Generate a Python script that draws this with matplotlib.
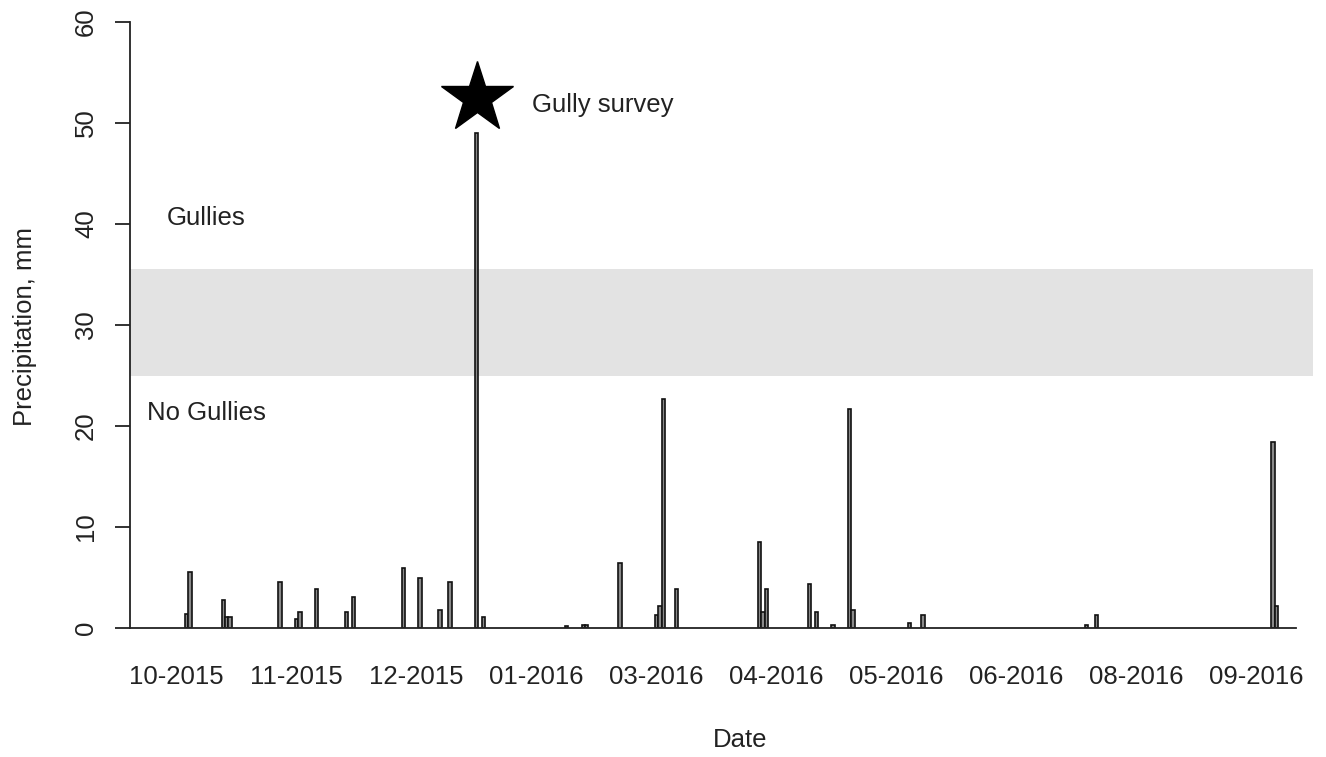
import matplotlib
matplotlib.use("Agg")
import matplotlib.pyplot as plt

plt.rcParams['font.family'] = ['Liberation Sans', 'DejaVu Sans']

# daily rainfall, x = day index of the record
days = [17, 18, 28, 29, 30, 45, 50, 51, 56, 65, 67, 82, 87, 93, 96, 104, 106,
        131, 136, 137, 147, 158, 159, 160, 164, 189, 190, 191, 204, 206, 211,
        216, 217, 234, 238, 287, 290, 343, 344]
rain_mm = [1.4, 5.5, 2.8, 1.1, 1.1, 4.6, 0.9, 1.6, 3.9, 1.6, 3.1, 5.9, 5.0, 1.8,
           4.6, 49.0, 1.1, 0.2, 0.3, 0.3, 6.4, 1.3, 2.2, 22.7, 3.9, 8.5, 1.6,
           3.9, 4.4, 1.6, 0.3, 21.7, 1.8, 0.5, 1.3, 0.3, 1.3, 18.4, 2.2]

month_pos = [14, 50, 86, 122, 158, 194, 230, 266, 302, 338]
month_labels = ['10-2015', '11-2015', '12-2015', '01-2016', '03-2016',
                '04-2016', '05-2016', '06-2016', '08-2016', '09-2016']

# rainfall threshold band between gully / no gully events
band_low, band_high = 25.0, 35.5
survey_day, survey_y = 104, 52.5

FS = 18.5
W, H = 1326, 757
fig = plt.figure(figsize=(W / 100, H / 100), dpi=100)
ax = fig.add_axes([130 / W, 1 - 628 / H, (1313 - 130) / W, (628 - 22) / H])
ax.set_xlim(0, 355)
ax.set_ylim(0, 60)

ax.axhspan(band_low, band_high, color='#e3e3e3', lw=0, zorder=0)
ax.bar(days, rain_mm, width=1.0, color='#8a8a8a', edgecolor='#111111',
       linewidth=1.2, zorder=2)

ax.plot(survey_day, survey_y, marker='*', ms=54, color='black', clip_on=False,
        zorder=3)
ax.text(120.6, 51.8, 'Gully survey', fontsize=FS, va='center', color='#222222')
ax.text(11.1, 40.6, 'Gullies', fontsize=FS, va='center', color='#222222')
ax.text(5.1, 21.3, 'No Gullies', fontsize=FS, va='center', color='#222222')

for s in ['top', 'right']:
    ax.spines[s].set_visible(False)
ax.spines['left'].set_bounds(0, 60)
ax.spines['bottom'].set_bounds(0, 350)
for s in ['left', 'bottom']:
    ax.spines[s].set_color('#222222')
    ax.spines[s].set_linewidth(1.3)

ax.set_yticks(range(0, 61, 10))
ax.set_yticklabels([str(v) for v in range(0, 61, 10)], rotation=90,
                   va='center', fontsize=FS, color='#222222')
ax.tick_params(axis='y', direction='out', length=11, width=1.3,
               color='#222222', pad=12)

ax.set_xticks(month_pos)
ax.set_xticklabels(month_labels, fontsize=FS, color='#222222')
ax.tick_params(axis='x', length=0, pad=27)

fig.text(740 / W, 1 - 740 / H, 'Date', fontsize=FS, ha='center', va='center',
         color='#222222')
fig.text(25 / W, 1 - 327 / H, 'Precipitation, mm', fontsize=FS, rotation=90,
         ha='center', va='center', color='#222222')

fig.savefig('out.png', dpi=100)
